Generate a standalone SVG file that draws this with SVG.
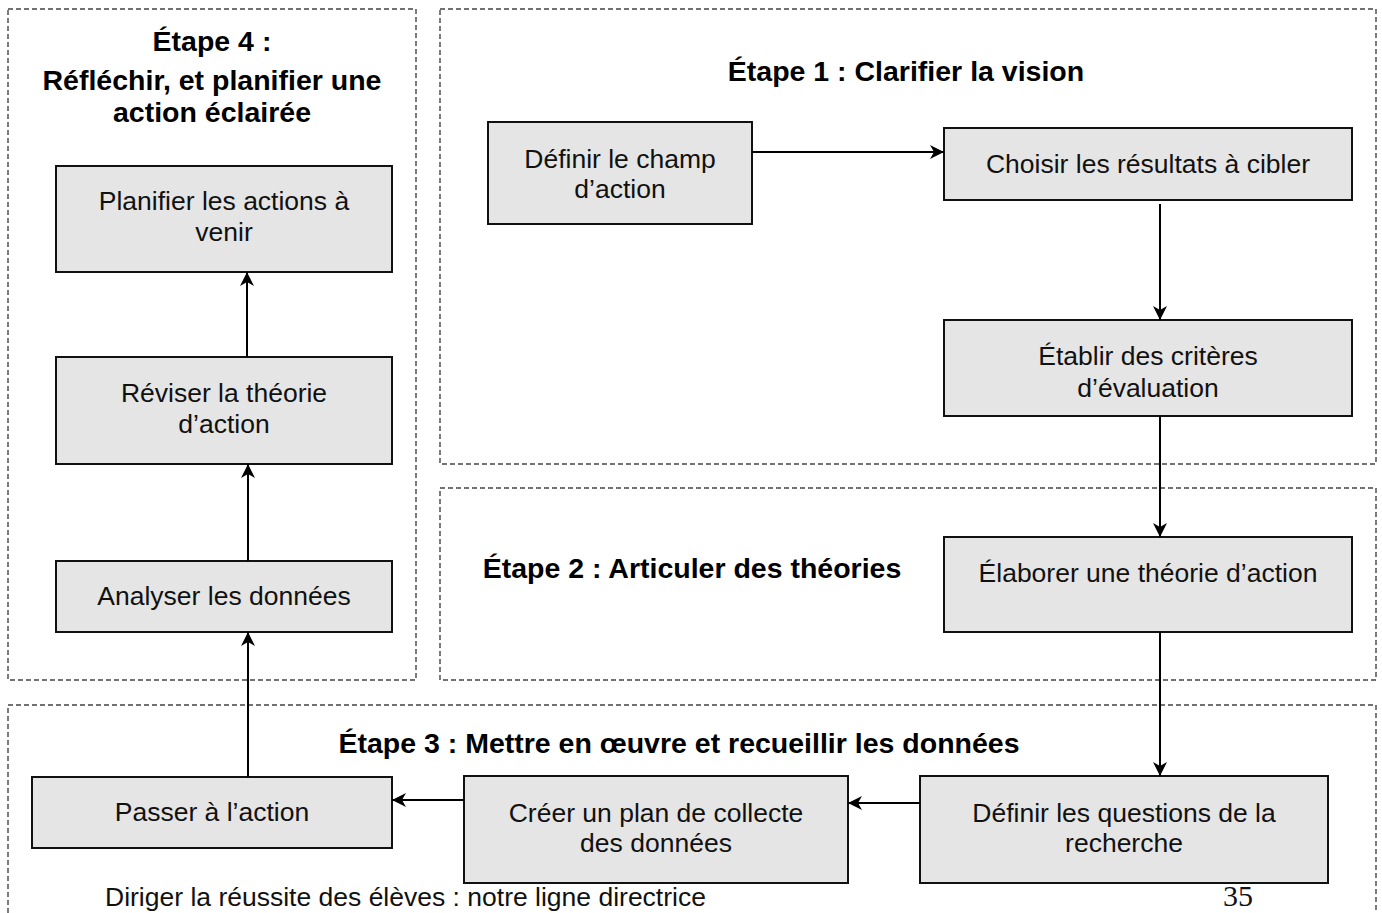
<svg xmlns="http://www.w3.org/2000/svg" width="1382" height="913" viewBox="0 0 1382 913">
<style>
.stage{fill:none;stroke:#444;stroke-width:1.4;stroke-dasharray:5 3}
.node rect{fill:#e5e5e5;stroke:#111;stroke-width:2}
.nt{font-family:"Liberation Sans",Arial,sans-serif;font-size:26.5px;fill:#111;text-anchor:middle}
.tt{font-family:"Liberation Sans",Arial,sans-serif;font-size:28.5px;font-weight:bold;fill:#000;text-anchor:middle}
.conn path{fill:none;stroke:#000;stroke-width:2;marker-end:url(#arr)}
</style>
<defs>
<marker id="arr" viewBox="0 0 14 14" refX="14" refY="7" markerWidth="16" markerHeight="14" orient="auto" markerUnits="userSpaceOnUse">
<path d="M0,0 L14,7 L0,14 L4,7 Z" fill="#000"/>
</marker>
</defs>
<rect width="1382" height="913" fill="#fff"/>
<g id="stages">
<rect class="stage" x="8" y="9" width="408" height="671"/>
<rect class="stage" x="440" y="9" width="936" height="455"/>
<rect class="stage" x="440" y="488" width="936" height="192"/>
<rect class="stage" x="8" y="705" width="1368" height="240"/>
</g>
<g id="titles">
<text class="tt" x="212" y="51">Étape 4 :</text>
<text class="tt" x="212" y="90">Réfléchir, et planifier une</text>
<text class="tt" x="212" y="122">action éclairée</text>
<text class="tt" x="906" y="81">Étape 1 : Clarifier la vision</text>
<text class="tt" x="692" y="578">Étape 2 : Articuler des théories</text>
<text class="tt" x="679" y="753">Étape 3 : Mettre en œuvre et recueillir les données</text>
</g>
<g id="n-definir-champ" class="node"><rect x="488" y="122" width="264" height="102"/><text class="nt" x="620" y="168">Définir le champ</text><text class="nt" x="620" y="198">d’action</text></g>
<g id="n-choisir" class="node"><rect x="944" y="128" width="408" height="72"/><text class="nt" x="1148" y="173">Choisir les résultats à cibler</text></g>
<g id="n-etablir" class="node"><rect x="944" y="320" width="408" height="96"/><text class="nt" x="1148" y="365">Établir des critères</text><text class="nt" x="1148" y="397">d’évaluation</text></g>
<g id="n-elaborer" class="node"><rect x="944" y="537" width="408" height="95"/><text class="nt" x="1148" y="582">Élaborer une théorie d’action</text></g>
<g id="n-questions" class="node"><rect x="920" y="776" width="408" height="107"/><text class="nt" x="1124" y="822">Définir les questions de la</text><text class="nt" x="1124" y="852">recherche</text></g>
<g id="n-creer" class="node"><rect x="464" y="776" width="384" height="107"/><text class="nt" x="656" y="822">Créer un plan de collecte</text><text class="nt" x="656" y="852">des données</text></g>
<g id="n-passer" class="node"><rect x="32" y="777" width="360" height="71"/><text class="nt" x="212" y="821">Passer à l’action</text></g>
<g id="n-analyser" class="node"><rect x="56" y="561" width="336" height="71"/><text class="nt" x="224" y="605">Analyser les données</text></g>
<g id="n-reviser" class="node"><rect x="56" y="357" width="336" height="107"/><text class="nt" x="224" y="402">Réviser la théorie</text><text class="nt" x="224" y="433">d’action</text></g>
<g id="n-planifier" class="node"><rect x="56" y="166" width="336" height="106"/><text class="nt" x="224" y="210">Planifier les actions à</text><text class="nt" x="224" y="241">venir</text></g>
<g id="connectors" class="conn">
<path d="M752,152 H944"/>
<path d="M1160,204 V320"/>
<path d="M1160,416 V537"/>
<path d="M1160,632 V776"/>
<path d="M920,803 H848"/>
<path d="M464,800 H392"/>
<path d="M248,777 V632"/>
<path d="M248,561 V464"/>
<path d="M247,357 V272"/>
</g>
<g id="footer">
<text x="105" y="906" style="font-family:'Liberation Sans',Arial,sans-serif;font-size:26.5px;fill:#111">Diriger la réussite des élèves : notre ligne directrice</text>
<text x="1223" y="906" style="font-family:'Liberation Serif','Times New Roman',serif;font-size:30px;fill:#111">35</text>
</g>
</svg>
